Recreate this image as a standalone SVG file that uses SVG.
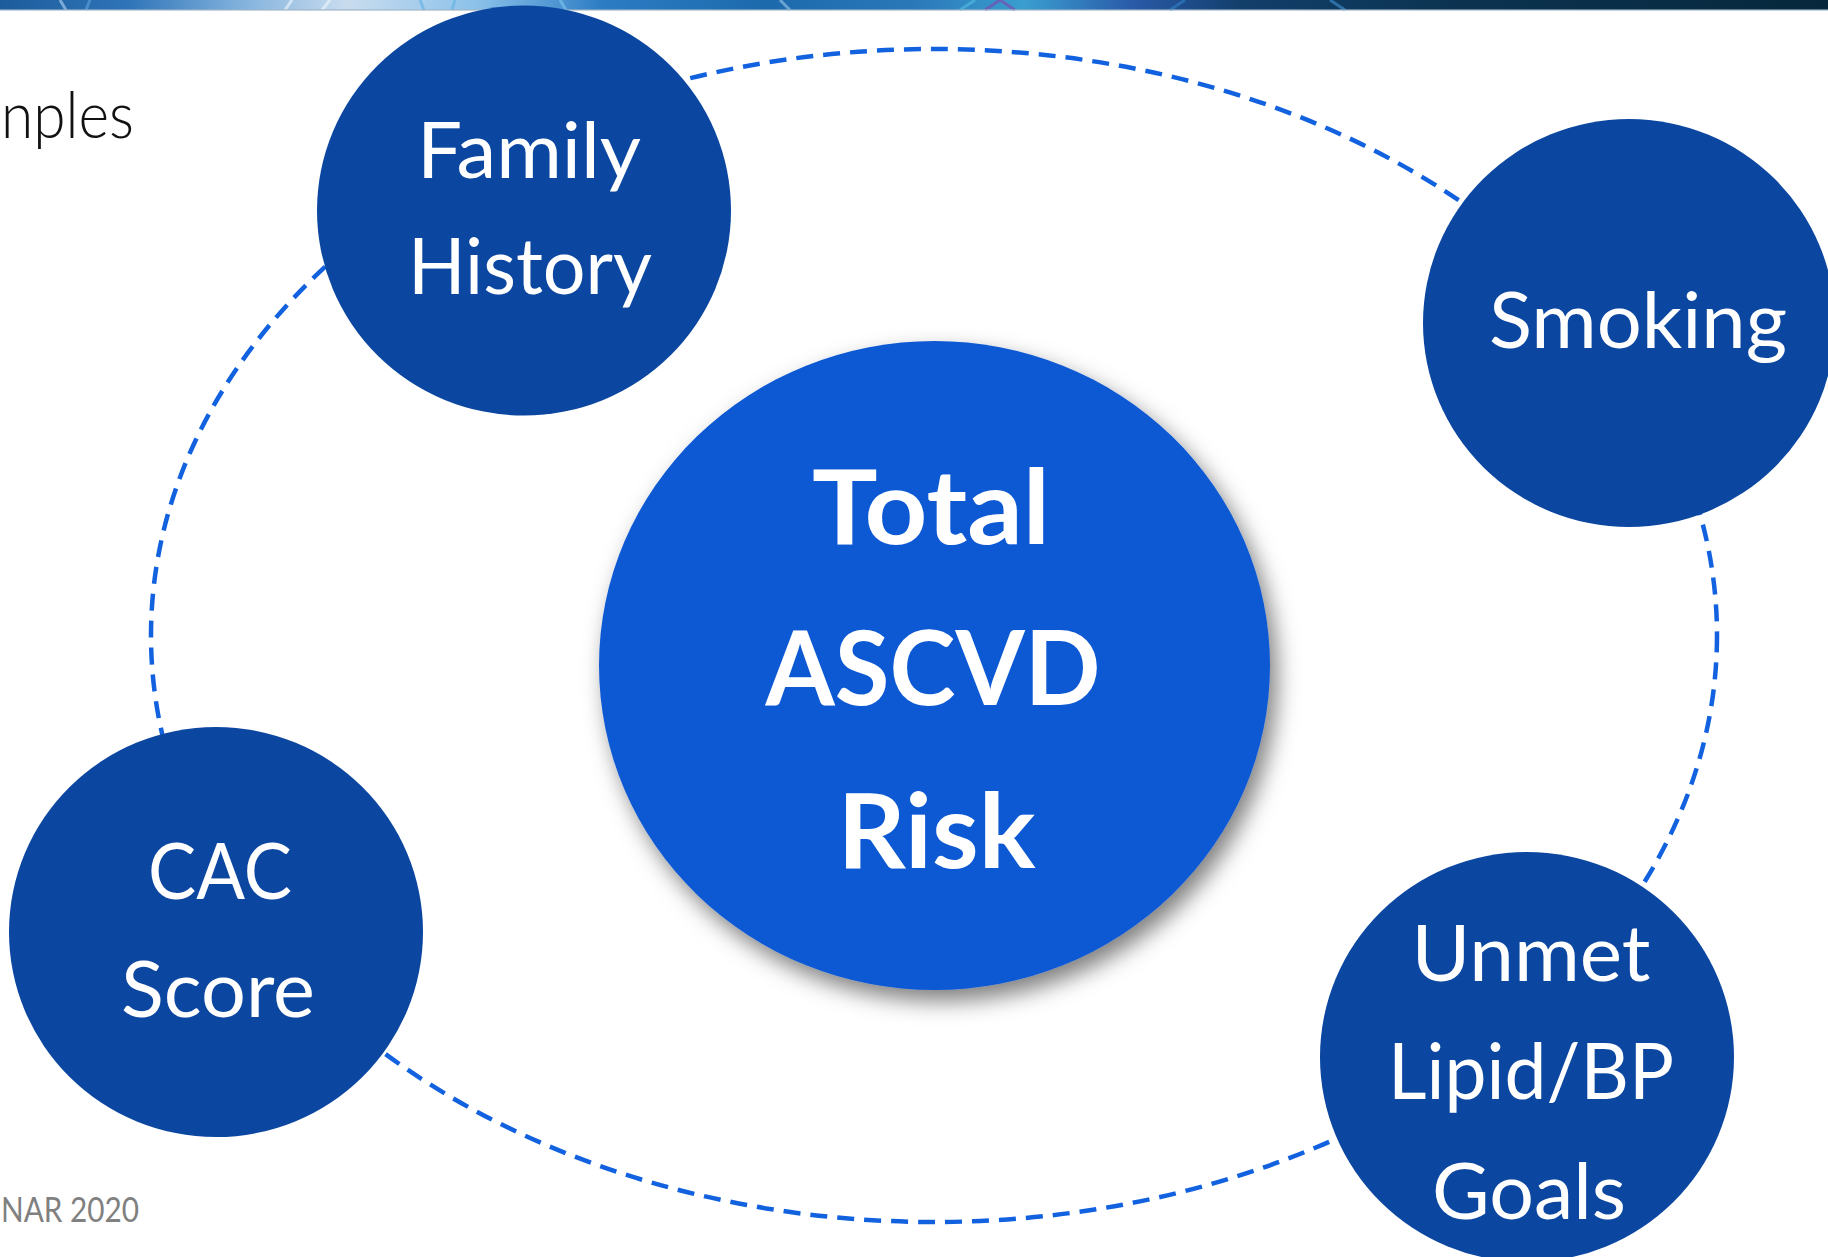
<svg xmlns="http://www.w3.org/2000/svg" width="1828" height="1257" viewBox="0 0 1828 1257">
  <defs>
    <linearGradient id="bannerGrad" x1="0" y1="0" x2="1" y2="0">
      <stop offset="0" stop-color="#1c5c9c"/>
      <stop offset="0.07" stop-color="#2f74b8"/>
      <stop offset="0.13" stop-color="#7fb0dc"/>
      <stop offset="0.19" stop-color="#c9dcee"/>
      <stop offset="0.26" stop-color="#8cc2ea"/>
      <stop offset="0.33" stop-color="#2c7cc4"/>
      <stop offset="0.42" stop-color="#1c6aac"/>
      <stop offset="0.5" stop-color="#2a78b8"/>
      <stop offset="0.56" stop-color="#3a9ed0"/>
      <stop offset="0.62" stop-color="#2a5aa8"/>
      <stop offset="0.68" stop-color="#123e6a"/>
      <stop offset="0.8" stop-color="#0b3350"/>
      <stop offset="1" stop-color="#07283c"/>
    </linearGradient>
    <filter id="shadow" x="-20%" y="-20%" width="140%" height="140%">
      <feDropShadow dx="7" dy="11" stdDeviation="11" flood-color="#000" flood-opacity="0.5"/>
    </filter>
    <style>
      .node { fill: #0b46a0; }
      .hub { fill: #0e58d3; }
      .label { font-family: Lato, "Open Sans", "Liberation Sans", sans-serif; font-size: 77px; fill: #ffffff; text-anchor: middle; }
      .hubLabel { font-family: Lato, "Open Sans", "Liberation Sans", sans-serif; font-weight: 700; font-size: 103px; fill: #ffffff; text-anchor: middle; }
      .ring { fill: none; stroke: #1262e0; stroke-width: 4.5; stroke-dasharray: 17 10; }
    </style>
  </defs>

  <rect width="1828" height="1257" fill="#ffffff"/>

  <!-- header strip -->
  <g id="banner">
    <rect x="0" y="0" width="1828" height="10" fill="url(#bannerGrad)"/>
    <g stroke-width="3" opacity="0.7">
      <line x1="60" y1="0" x2="66" y2="10" stroke="#9fc6ea"/>
      <line x1="90" y1="0" x2="86" y2="10" stroke="#5a9ad6"/>
      <line x1="285" y1="10" x2="292" y2="0" stroke="#e8f2fb"/>
      <line x1="322" y1="10" x2="330" y2="0" stroke="#e8f2fb"/>
      <line x1="420" y1="0" x2="424" y2="10" stroke="#6ab4e4"/>
      <line x1="455" y1="0" x2="452" y2="10" stroke="#6ab4e4"/>
      <line x1="560" y1="0" x2="566" y2="10" stroke="#76c0ea"/>
      <line x1="780" y1="0" x2="790" y2="10" stroke="#88bbe0"/>
      <line x1="960" y1="10" x2="975" y2="0" stroke="#4fb6de"/>
      <line x1="985" y1="10" x2="1000" y2="0" stroke="#7a4fb0"/>
      <line x1="1000" y1="0" x2="1015" y2="10" stroke="#7a4fb0"/>
      <line x1="1170" y1="10" x2="1185" y2="0" stroke="#2d7ac0"/>
      <line x1="1330" y1="0" x2="1345" y2="10" stroke="#3a88c6"/>
    </g>
    <rect x="0" y="9" width="1828" height="2" fill="#9fb6c8" opacity="0.6"/>
  </g>

  <!-- page texts -->
  <text x="1" y="138" font-family="Lato, 'Open Sans', 'Liberation Sans', sans-serif" font-weight="300" font-size="66" fill="#111111" textLength="133" lengthAdjust="spacingAndGlyphs">nples</text>
  <text x="1" y="1222" font-family="Lato, 'Open Sans', 'Liberation Sans', sans-serif" font-size="35" fill="#808080" textLength="138" lengthAdjust="spacingAndGlyphs">NAR 2020</text>

  <!-- dashed ring linking the factors -->
  <g id="connectors">
    <ellipse class="ring" cx="934" cy="635.5" rx="783" ry="586.5"/>
  </g>

  <g id="node-family-history">
    <ellipse class="node" cx="524" cy="210.5" rx="207" ry="205"/>
    <text class="label" x="529" y="178" textLength="224" lengthAdjust="spacingAndGlyphs">Family</text>
    <text class="label" x="530" y="294" textLength="244" lengthAdjust="spacingAndGlyphs">History</text>
  </g>

  <g id="node-smoking">
    <ellipse class="node" cx="1629" cy="323" rx="206" ry="204"/>
    <text class="label" x="1638" y="348" textLength="298" lengthAdjust="spacingAndGlyphs">Smoking</text>
  </g>

  <g id="node-cac-score">
    <ellipse class="node" cx="216" cy="932" rx="207" ry="205"/>
    <text class="label" x="220" y="899" textLength="144" lengthAdjust="spacingAndGlyphs">CAC</text>
    <text class="label" x="218" y="1017" textLength="194" lengthAdjust="spacingAndGlyphs">Score</text>
  </g>

  <g id="node-unmet-goals">
    <ellipse class="node" cx="1527" cy="1057" rx="207" ry="205"/>
    <text class="label" x="1531" y="981" textLength="239" lengthAdjust="spacingAndGlyphs">Unmet</text>
    <text class="label" x="1531" y="1099" textLength="286" lengthAdjust="spacingAndGlyphs">Lipid/BP</text>
    <text class="label" x="1529" y="1219" textLength="194" lengthAdjust="spacingAndGlyphs">Goals</text>
  </g>

  <g id="node-total-risk">
    <ellipse class="hub" cx="934.5" cy="665.5" rx="335.5" ry="324.5" filter="url(#shadow)"/>
    <text class="hubLabel" x="931" y="544" textLength="238" lengthAdjust="spacingAndGlyphs">Total</text>
    <text class="hubLabel" x="933" y="705" textLength="335" lengthAdjust="spacingAndGlyphs">ASCVD</text>
    <text class="hubLabel" x="936.5" y="868" textLength="198" lengthAdjust="spacingAndGlyphs">Risk</text>
  </g>
</svg>
